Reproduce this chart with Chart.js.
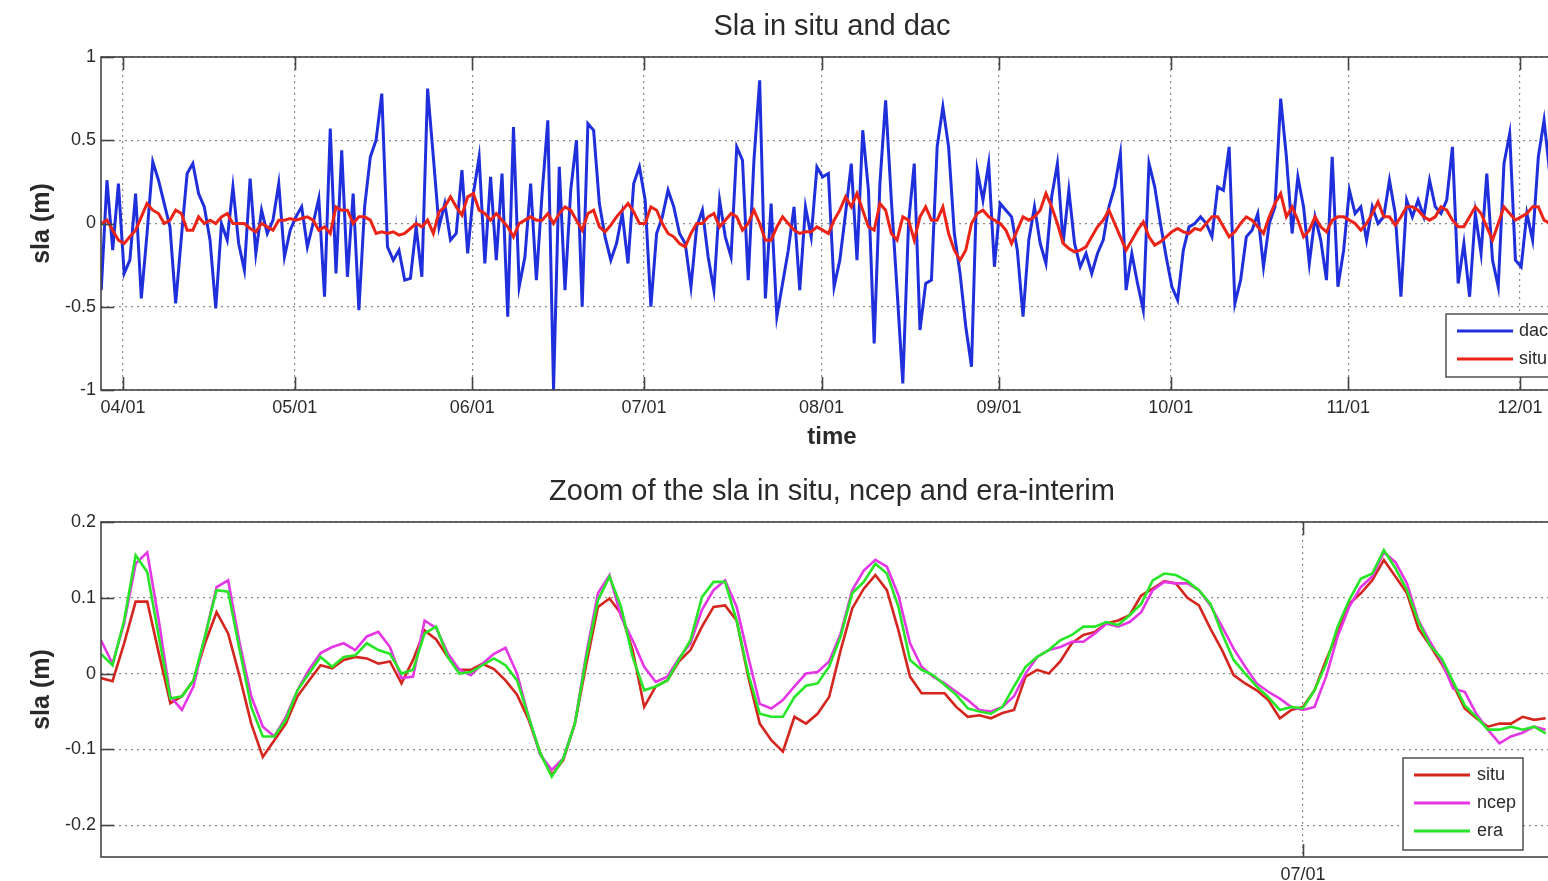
<!DOCTYPE html>
<html>
<head>
<meta charset="utf-8">
<title>Sla in situ and dac</title>
<script src="https://cdn.jsdelivr.net/npm/chart.js@4.4.1/dist/chart.umd.min.js"></script>
<style>
  html, body { margin: 0; padding: 0; background: #fff; overflow: hidden; }
  #wrap { position: relative; width: 1548px; height: 881px; overflow: hidden; }
  canvas { position: absolute; left: 0; }
  #topChart  { top: 0; }
  #zoomChart { top: 450px; }
</style>
</head>
<body>
<div id="wrap">
  <canvas id="topChart" width="1600" height="450"></canvas>
  <canvas id="zoomChart" width="1600" height="431"></canvas>
</div>
<script>
'use strict';

// ── Data ─────────────────────────────────────────────────
// x is day of year (0 = 01/01)
const MONTH_DAYS   = [90, 120, 151, 181, 212, 243, 273, 304, 334];
const MONTH_LABELS = ['04/01', '05/01', '06/01', '07/01', '08/01', '09/01', '10/01', '11/01', '12/01'];

// top panel: daily values starting 03/28
const TOP_T0   = 86.2;
const TOP_STEP = 1;
const TOP_Y_TICKS = [-1, -0.5, 0, 0.5, 1];

const DAC = [
  -0.40, 0.26, -0.16, 0.24, -0.30, -0.22, 0.18, -0.45, -0.06, 0.37,
  0.26, 0.12, -0.02, -0.48, -0.08, 0.30, 0.36, 0.18, 0.10, -0.10,
  -0.51, 0.00, -0.10, 0.22, -0.12, -0.28, 0.27, -0.18, 0.08, -0.06,
  0.02, 0.24, -0.20, -0.04, 0.04, 0.10, -0.14, 0.00, 0.15, -0.44,
  0.57, -0.30, 0.44, -0.32, 0.18, -0.52, 0.10, 0.40, 0.50, 0.78,
  -0.14, -0.22, -0.16, -0.34, -0.33, -0.02, -0.32, 0.81, 0.40, -0.02,
  0.12, -0.10, -0.06, 0.32, -0.18, 0.18, 0.40, -0.24, 0.28, -0.22,
  0.30, -0.56, 0.58, -0.38, -0.20, 0.24, -0.34, 0.18, 0.62, -1.00,
  0.34, -0.40, 0.20, 0.50, -0.50, 0.60, 0.56, 0.12, -0.08, -0.22,
  -0.12, 0.06, -0.24, 0.24, 0.34, 0.14, -0.50, -0.06, 0.04, 0.20,
  0.10, -0.06, -0.12, -0.38, -0.02, 0.08, -0.20, -0.40, 0.14, -0.08,
  -0.20, 0.46, 0.38, -0.34, 0.38, 0.86, -0.45, 0.12, -0.56, -0.36,
  -0.16, 0.10, -0.40, 0.10, -0.08, 0.34, 0.28, 0.30, -0.38, -0.22,
  0.06, 0.36, -0.22, 0.56, 0.20, -0.72, 0.24, 0.74, 0.14, -0.40,
  -0.96, 0.00, 0.36, -0.64, -0.36, -0.34, 0.46, 0.70, 0.46, -0.06,
  -0.30, -0.62, -0.86, 0.32, 0.14, 0.36, -0.26, 0.12, 0.08, 0.04,
  -0.16, -0.56, -0.10, 0.10, -0.12, -0.24, 0.16, 0.36, -0.12, 0.20,
  -0.12, -0.26, -0.18, -0.30, -0.18, -0.10, 0.10, 0.22, 0.42, -0.40,
  -0.18, -0.36, -0.52, 0.36, 0.22, 0.00, -0.20, -0.38, -0.46, -0.16,
  -0.02, 0.00, 0.04, 0.00, -0.08, 0.22, 0.20, 0.46, -0.48, -0.34,
  -0.08, -0.04, 0.06, -0.26, 0.00, 0.10, 0.75, 0.40, -0.06, 0.28,
  0.10, -0.24, 0.04, -0.10, -0.34, 0.40, -0.38, -0.16, 0.20, 0.06,
  0.10, -0.10, 0.10, 0.00, 0.04, 0.26, 0.06, -0.44, 0.14, 0.04,
  0.14, 0.04, 0.26, 0.10, 0.06, 0.14, 0.46, -0.36, -0.12, -0.44,
  0.06, -0.18, 0.30, -0.22, -0.38, 0.36, 0.54, -0.22, -0.26, 0.06,
  -0.10, 0.40, 0.62, 0.30
];

const SITU = [
  0.00, 0.02, -0.04, -0.10, -0.12, -0.08, -0.04, 0.04, 0.12, 0.08,
  0.06, 0.00, 0.02, 0.08, 0.06, -0.04, -0.04, 0.04, 0.00, 0.02,
  0.00, 0.04, 0.06, 0.00, 0.00, 0.00, -0.03, -0.05, 0.00, -0.02,
  -0.04, 0.02, 0.02, 0.03, 0.02, 0.03, 0.04, 0.02, -0.04, -0.02,
  -0.06, 0.10, 0.08, 0.08, 0.00, 0.04, 0.04, 0.02, -0.06, -0.05,
  -0.06, -0.05, -0.07, -0.06, -0.03, 0.00, -0.02, 0.02, -0.06, 0.07,
  0.10, 0.16, 0.10, 0.05, 0.16, 0.18, 0.08, 0.06, 0.02, 0.06,
  0.02, -0.02, -0.08, 0.00, 0.02, 0.04, 0.02, 0.02, 0.06, 0.00,
  0.06, 0.10, 0.08, 0.02, -0.04, 0.06, 0.08, -0.02, -0.05, -0.01,
  0.04, 0.08, 0.12, 0.07, 0.00, 0.00, 0.10, 0.08, 0.00, -0.06,
  -0.08, -0.12, -0.14, -0.06, 0.00, 0.00, 0.04, 0.06, -0.02, 0.02,
  0.06, 0.04, -0.04, 0.00, 0.08, 0.00, -0.10, -0.10, -0.02, 0.04,
  0.00, -0.04, -0.06, -0.05, -0.05, -0.02, -0.04, -0.06, 0.02, 0.08,
  0.16, 0.10, 0.18, 0.08, -0.02, -0.04, 0.12, 0.08, -0.06, -0.10,
  0.04, 0.02, -0.10, 0.04, 0.10, 0.02, 0.02, 0.10, -0.06, -0.16,
  -0.22, -0.16, 0.00, 0.06, 0.08, 0.04, 0.02, 0.00, -0.04, -0.12,
  -0.04, 0.04, 0.02, 0.04, 0.08, 0.18, 0.10, 0.00, -0.12, -0.15,
  -0.17, -0.16, -0.14, -0.08, -0.02, 0.02, 0.08, 0.00, -0.08, -0.16,
  -0.10, -0.04, 0.01, -0.08, -0.13, -0.11, -0.08, -0.05, -0.03, -0.05,
  -0.06, -0.03, -0.04, 0.00, 0.04, 0.04, -0.02, -0.08, -0.05, 0.00,
  0.04, 0.02, -0.02, -0.06, 0.04, 0.12, 0.18, 0.04, 0.10, 0.02,
  -0.08, -0.04, 0.04, -0.02, -0.05, 0.02, 0.04, 0.04, 0.02, 0.00,
  -0.04, 0.00, 0.06, 0.13, 0.04, 0.04, -0.01, 0.04, 0.10, 0.10,
  0.08, 0.04, 0.02, 0.04, 0.10, 0.08, 0.02, -0.02, -0.02, 0.04,
  0.10, 0.06, -0.02, -0.10, 0.00, 0.10, 0.06, 0.02, 0.04, 0.06,
  0.10, 0.10, 0.02, 0.00
];

// zoom panel: 6-hourly values starting 06/05
const ZOOM_T0   = 155;
const ZOOM_STEP = 0.25;
const ZOOM_Y_TICKS = [-0.2, -0.1, 0, 0.1, 0.2];

const ZOOM_SITU = [
  -0.006, -0.010, 0.040, 0.095, 0.095, 0.027, -0.039, -0.030, -0.009, 0.040,
  0.081, 0.053, -0.004, -0.066, -0.110, -0.088, -0.066, -0.030, -0.009, 0.011,
  0.007, 0.018, 0.022, 0.020, 0.013, 0.016, -0.013, 0.018, 0.057, 0.045,
  0.022, 0.005, 0.005, 0.013, 0.006, -0.009, -0.028, -0.061, -0.105, -0.134,
  -0.114, -0.066, 0.013, 0.088, 0.099, 0.079, 0.031, -0.044, -0.017, -0.009,
  0.016, 0.031, 0.062, 0.088, 0.090, 0.070, -0.004, -0.066, -0.088, -0.103,
  -0.057, -0.066, -0.053, -0.031, 0.031, 0.086, 0.112, 0.130, 0.110, 0.057,
  -0.004, -0.026, -0.026, -0.026, -0.044, -0.057, -0.055, -0.059, -0.052, -0.048,
  -0.004, 0.005, 0.000, 0.016, 0.040, 0.051, 0.055, 0.066, 0.070, 0.077,
  0.103, 0.112, 0.122, 0.119, 0.100, 0.090, 0.059, 0.031, -0.002, -0.013,
  -0.022, -0.035, -0.059, -0.048, -0.044, -0.022, 0.018, 0.053, 0.092, 0.106,
  0.123, 0.150, 0.128, 0.106, 0.059, 0.037, 0.013, -0.015, -0.046, -0.059,
  -0.070, -0.066, -0.066, -0.057, -0.061, -0.059
];

const ZOOM_NCEP = [
  0.044, 0.013, 0.066, 0.145, 0.160, 0.070, -0.030, -0.048, -0.017, 0.049,
  0.114, 0.123, 0.040, -0.030, -0.070, -0.083, -0.057, -0.022, 0.005, 0.027,
  0.035, 0.040, 0.031, 0.049, 0.055, 0.035, -0.006, -0.004, 0.070, 0.060,
  0.027, 0.005, -0.002, 0.013, 0.026, 0.034, 0.000, -0.057, -0.107, -0.127,
  -0.112, -0.066, 0.027, 0.106, 0.130, 0.075, 0.044, 0.009, -0.011, -0.004,
  0.020, 0.040, 0.084, 0.110, 0.123, 0.088, 0.022, -0.040, -0.046, -0.035,
  -0.017, 0.000, 0.002, 0.016, 0.053, 0.110, 0.136, 0.150, 0.141, 0.103,
  0.040, 0.009, -0.004, -0.013, -0.024, -0.035, -0.048, -0.050, -0.044, -0.030,
  0.000, 0.022, 0.031, 0.035, 0.042, 0.042, 0.053, 0.066, 0.062, 0.068,
  0.081, 0.110, 0.121, 0.119, 0.119, 0.110, 0.090, 0.062, 0.033, 0.009,
  -0.013, -0.024, -0.033, -0.044, -0.048, -0.044, -0.004, 0.049, 0.088, 0.114,
  0.128, 0.160, 0.147, 0.119, 0.070, 0.042, 0.016, -0.020, -0.024, -0.053,
  -0.074, -0.092, -0.083, -0.078, -0.070, -0.074
];

const ZOOM_ERA = [
  0.026, 0.011, 0.070, 0.156, 0.134, 0.049, -0.033, -0.030, -0.009, 0.049,
  0.110, 0.108, 0.031, -0.044, -0.083, -0.083, -0.061, -0.022, 0.000, 0.022,
  0.009, 0.022, 0.024, 0.040, 0.031, 0.026, 0.000, 0.005, 0.053, 0.062,
  0.022, 0.000, 0.002, 0.011, 0.020, 0.011, -0.009, -0.057, -0.105, -0.136,
  -0.112, -0.066, 0.022, 0.097, 0.128, 0.088, 0.022, -0.022, -0.017, -0.009,
  0.018, 0.044, 0.101, 0.121, 0.121, 0.070, 0.000, -0.053, -0.057, -0.057,
  -0.031, -0.016, -0.013, 0.009, 0.049, 0.106, 0.121, 0.145, 0.132, 0.088,
  0.018, 0.005, -0.002, -0.015, -0.028, -0.046, -0.050, -0.053, -0.044, -0.017,
  0.009, 0.022, 0.031, 0.044, 0.051, 0.062, 0.062, 0.068, 0.064, 0.077,
  0.092, 0.123, 0.132, 0.130, 0.122, 0.110, 0.092, 0.053, 0.018, 0.000,
  -0.017, -0.031, -0.048, -0.044, -0.046, -0.022, 0.013, 0.062, 0.097, 0.125,
  0.132, 0.163, 0.139, 0.110, 0.068, 0.037, 0.020, -0.011, -0.042, -0.057,
  -0.074, -0.074, -0.070, -0.074, -0.070, -0.079
];

// ── Styles ───────────────────────────────────────────────
const FONT   = "'Liberation Sans', Arial, sans-serif";
const TEXT   = '#2a2a2a';
const FRAME  = '#444444';
const GRID   = '#8c8c8c';
const BLUE   = '#1f2fdc';
const RED    = '#ec2418';
const SITU_C = '#d4261e';
const NCEP_C = '#e536e5';
const ERA_C  = '#27e627';
const TICK_LEN = 13;

function series(t0, step, values) {
  return values.map((v, i) => ({ x: t0 + i * step, y: v }));
}

function line(ctx, x0, y0, x1, y1) {
  ctx.beginPath();
  ctx.moveTo(x0, y0);
  ctx.lineTo(x1, y1);
  ctx.stroke();
}

// ── MATLAB-like box, inner ticks, title, legend ──────────
const matlabAxes = {
  id: 'matlabAxes',
  beforeDraw(chart) {
    const { ctx, width, height } = chart;
    ctx.save();
    ctx.fillStyle = '#fff';
    ctx.fillRect(0, 0, width, height);
    ctx.restore();
  },
  afterDatasetsDraw(chart, _args, opts) {
    const { ctx, chartArea: a, scales } = chart;
    ctx.save();

    // inner tick marks
    ctx.strokeStyle = FRAME;
    ctx.lineWidth = 1.6;
    scales.x.ticks.forEach(t => {
      const x = Math.round(scales.x.getPixelForValue(t.value)) + 0.5;
      line(ctx, x, a.bottom, x, a.bottom - TICK_LEN);
      line(ctx, x, a.top, x, a.top + TICK_LEN);
    });
    scales.y.ticks.forEach(t => {
      const y = Math.round(scales.y.getPixelForValue(t.value)) + 0.5;
      line(ctx, a.left, y, a.left + TICK_LEN, y);
      line(ctx, a.right, y, a.right - TICK_LEN, y);
    });

    // axes box
    ctx.lineWidth = 1.6;
    ctx.strokeRect(a.left, a.top, a.right - a.left, a.bottom - a.top);

    // title
    ctx.fillStyle = TEXT;
    ctx.font = `29px ${FONT}`;
    ctx.textAlign = 'center';
    ctx.textBaseline = 'middle';
    ctx.fillText(opts.title, (a.left + a.right) / 2, opts.titleY);

    // legend
    const lg = opts.legend;
    ctx.fillStyle = '#fff';
    ctx.fillRect(lg.left, lg.top, lg.width, lg.height);
    ctx.strokeStyle = FRAME;
    ctx.lineWidth = 1.4;
    ctx.strokeRect(lg.left, lg.top, lg.width, lg.height);
    ctx.font = `18px ${FONT}`;
    ctx.textAlign = 'left';
    lg.items.forEach((label, i) => {
      const ds = chart.data.datasets.find(d => d.label === label);
      const y = lg.top + lg.firstRow + i * lg.rowGap;
      ctx.strokeStyle = ds.borderColor;
      ctx.lineWidth = 3;
      line(ctx, lg.left + lg.lineStart, y, lg.left + lg.lineEnd, y);
      ctx.fillStyle = TEXT;
      ctx.fillText(label, lg.left + lg.textX, y);
    });

    ctx.restore();
  }
};

function xAxis(min, max, height, withTitle) {
  return {
    type: 'linear',
    min, max,
    afterBuildTicks: s => {
      s.ticks = MONTH_DAYS.filter(d => d >= min && d <= max).map(v => ({ value: v }));
    },
    afterFit: s => { s.height = height; },
    grid: { color: GRID, lineWidth: 1.2, drawTicks: false },
    border: { display: false, dash: [2, 4] },
    ticks: {
      autoSkip: false, maxRotation: 0, padding: 7,
      color: TEXT, font: { family: FONT, size: 18 },
      callback: v => MONTH_LABELS[MONTH_DAYS.indexOf(v)]
    },
    title: {
      display: withTitle, text: 'time', color: TEXT,
      font: { family: FONT, size: 24, weight: 'bold', lineHeight: 1 },
      padding: { top: 0, bottom: 1 }
    }
  };
}

function yAxis(min, max, tickValues) {
  return {
    type: 'linear',
    min, max,
    afterBuildTicks: s => { s.ticks = tickValues.map(v => ({ value: v })); },
    afterFit: s => { s.width = 101; },
    grid: { color: GRID, lineWidth: 1.2, drawTicks: false },
    border: { display: false, dash: [2, 4] },
    ticks: {
      padding: 5, color: TEXT, font: { family: FONT, size: 18 },
      callback: v => String(v)
    },
    title: {
      display: true, text: 'sla (m)', color: TEXT,
      font: { family: FONT, size: 25, weight: 'bold', lineHeight: 1 },
      padding: { top: 30, bottom: 0 }
    }
  };
}

const lineDefaults = { pointRadius: 0, tension: 0, fill: false };

// ── Top panel ────────────────────────────────────────────
new Chart(document.getElementById('topChart'), {
  type: 'line',
  data: {
    datasets: [
      { ...lineDefaults, label: 'dac',  data: series(TOP_T0, TOP_STEP, DAC),  borderColor: BLUE, borderWidth: 3, order: 2 },
      { ...lineDefaults, label: 'situ', data: series(TOP_T0, TOP_STEP, SITU), borderColor: RED,  borderWidth: 3, order: 1 }
    ]
  },
  options: {
    responsive: false,
    animation: false,
    layout: { padding: { top: 57, right: 37, left: 0, bottom: 0 } },
    plugins: {
      legend: { display: false },
      tooltip: { enabled: false },
      matlabAxes: {
        title: 'Sla in situ and dac', titleY: 27,
        legend: { left: 1446, top: 314, width: 122, height: 63, firstRow: 17, rowGap: 28,
                  lineStart: 11, lineEnd: 67, textX: 73, items: ['dac', 'situ'] }
      }
    },
    scales: {
      x: xAxis(86.157, 341.51, 60, true),
      y: yAxis(-1, 1, TOP_Y_TICKS)
    }
  },
  plugins: [matlabAxes]
});

// ── Zoom panel ───────────────────────────────────────────
new Chart(document.getElementById('zoomChart'), {
  type: 'line',
  data: {
    datasets: [
      { ...lineDefaults, label: 'situ', data: series(ZOOM_T0, ZOOM_STEP, ZOOM_SITU), borderColor: SITU_C, borderWidth: 2.6, order: 3 },
      { ...lineDefaults, label: 'ncep', data: series(ZOOM_T0, ZOOM_STEP, ZOOM_NCEP), borderColor: NCEP_C, borderWidth: 2.6, order: 2 },
      { ...lineDefaults, label: 'era',  data: series(ZOOM_T0, ZOOM_STEP, ZOOM_ERA),  borderColor: ERA_C,  borderWidth: 2.6, order: 1 }
    ]
  },
  options: {
    responsive: false,
    animation: false,
    layout: { padding: { top: 72, right: 37, left: 0, bottom: 0 } },
    plugins: {
      legend: { display: false },
      tooltip: { enabled: false },
      matlabAxes: {
        title: 'Zoom of the sla in situ, ncep and era-interim', titleY: 42,
        legend: { left: 1403, top: 308, width: 120, height: 92, firstRow: 17, rowGap: 28,
                  lineStart: 11, lineEnd: 67, textX: 74, items: ['situ', 'ncep', 'era'] }
      }
    },
    scales: {
      x: xAxis(155, 186.625, 24, false),
      y: yAxis(-0.242, 0.2, ZOOM_Y_TICKS)
    }
  },
  plugins: [matlabAxes]
});
</script>
</body>
</html>
